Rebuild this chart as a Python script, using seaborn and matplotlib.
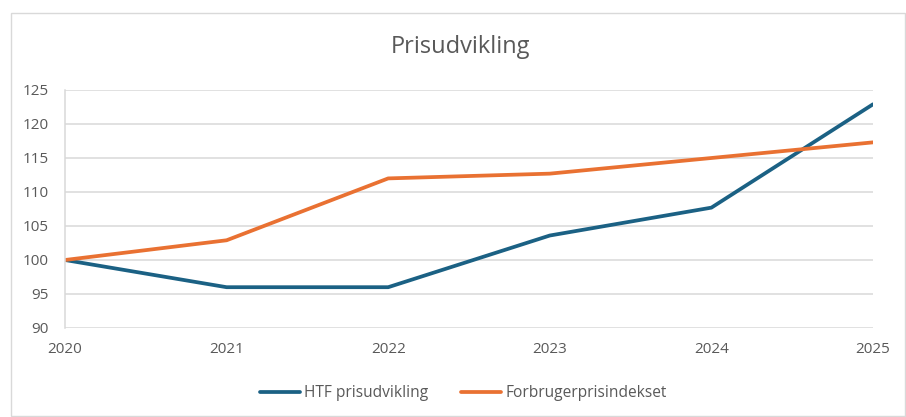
import pandas as pd
import matplotlib.pyplot as plt
import seaborn as sns
from matplotlib.patches import Rectangle

years = [2020, 2021, 2022, 2023, 2024, 2025]
htf = [100, 96, 96, 103.6, 107.7, 122.9]
fpi = [100, 102.9, 112.0, 112.7, 115.0, 117.3]
series_names = ["HTF prisudvikling", "Forbrugerprisindekset"]
colors = ["#1b6184", "#e97132"]

df = pd.DataFrame({
    "year": years * 2,
    "value": htf + fpi,
    "serie": [series_names[0]] * len(years) + [series_names[1]] * len(years),
})

sns.set_style("white")
plt.rcParams["font.family"] = ["Open Sans", "DejaVu Sans"]

fig = plt.figure(figsize=(9.06, 4.17), dpi=100)
ax = fig.add_axes([65 / 906, 1 - 328 / 417, (873 - 65) / 906, (328 - 90) / 417])

# chart-area border like Excel
fig.patches.append(Rectangle((11 / 906, 1 / 417), 894 / 906, 403 / 417,
                             transform=fig.transFigure, fill=False,
                             edgecolor="#d9d9d9", linewidth=1))

sns.lineplot(data=df, x="year", y="value", hue="serie", palette=colors,
             linewidth=2.7, ax=ax, legend=False, solid_capstyle="round")

ax.set_xlim(2020, 2025)
ax.set_ylim(90, 125)
ax.set_yticks(range(90, 126, 5))
ax.set_xticks(years)
ax.grid(axis="y", color="#d9d9d9", linewidth=1.1)
ax.set_axisbelow(True)
for s in ["top", "right", "bottom"]:
    ax.spines[s].set_visible(False)
ax.spines["left"].set_color("#d9d9d9")
ax.spines["left"].set_linewidth(1.1)
ax.tick_params(axis="both", length=0, labelsize=11, labelcolor="#595959")
ax.tick_params(axis="y", pad=12)
ax.tick_params(axis="x", pad=10)
ax.set_xlabel("")
ax.set_ylabel("")

fig.text(0.508, 1 - 47 / 417, "Prisudvikling", ha="center", va="center",
         fontsize=17, color="#595959")

handles = [plt.Line2D([], [], color=c, linewidth=2.7, solid_capstyle="round") for c in colors]
fig.legend(handles, series_names, loc="center", bbox_to_anchor=(463 / 906, 1 - 393 / 417),
           ncol=2, frameon=False, fontsize=11.2, labelcolor="#595959",
           handlelength=2.6, handletextpad=0.25, columnspacing=2.1)

fig.savefig("out.png", dpi=100)
